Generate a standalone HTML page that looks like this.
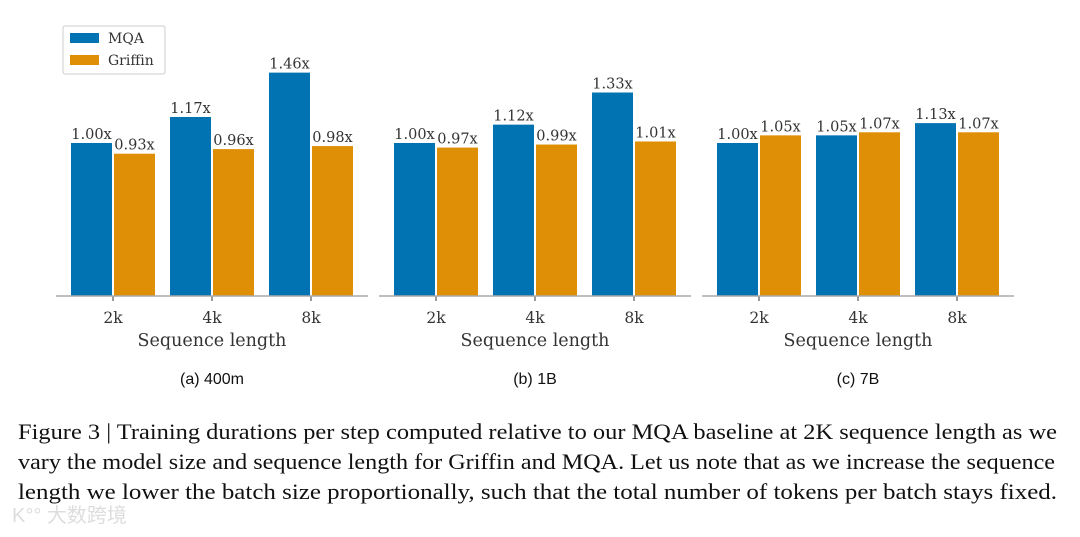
<!DOCTYPE html>
<html><head><meta charset="utf-8"><style>
body{margin:0;background:#fff;width:1080px;height:532px;overflow:hidden}
</style></head><body>
<svg id="fig" width="1080" height="532" xmlns="http://www.w3.org/2000/svg" font-family="'DejaVu Serif', 'Liberation Serif', serif">
<g>
<rect x="63" y="26" width="102" height="48" fill="#fff" stroke="#ccc" rx="2"/>
<rect x="70" y="33" width="29" height="10" fill="#0173b2"/>
<text x="108" y="43" font-size="14" fill="#333">MQA</text>
<rect x="70" y="55" width="29" height="10" fill="#de8f05"/>
<text x="108" y="65" font-size="14" fill="#333">Griffin</text>
</g>
<g id="charts"></g>
<g font-family="'Liberation Serif', serif" font-size="22" fill="#111">
<text x="18" y="439" textLength="1039" lengthAdjust="spacingAndGlyphs">Figure 3 | Training durations per step computed relative to our MQA baseline at 2K sequence length as we</text>
<text x="18" y="469" textLength="1037" lengthAdjust="spacingAndGlyphs">vary the model size and sequence length for Griffin and MQA. Let us note that as we increase the sequence</text>
<text x="18" y="499" textLength="1039" lengthAdjust="spacingAndGlyphs">length we lower the batch size proportionally, such that the total number of tokens per batch stays fixed.</text>
</g>
<text x="12" y="522" font-size="20" fill="#ddd" font-family="'Liberation Sans','Noto Sans CJK SC',sans-serif">K°° 大数跨境</text>
</svg>
<script>
const categories = ["2k","4k","8k"];
const panelTitles = ["(a)  400m","(b)  1B","(c)  7B"];
const mqaValues = [[1.00,1.17,1.46],[1.00,1.12,1.33],[1.00,1.05,1.13]];
const griffinValues = [[0.93,0.96,0.98],[0.97,0.99,1.01],[1.05,1.07,1.07]];
const ns="http://www.w3.org/2000/svg";
const root=document.getElementById('charts');
const base=296, unit=153;
const panelLeft=[56,379,702], panelW=312;
function yOf(v){return base-v*unit;}
function el(tag,attrs,parent){const e=document.createElementNS(ns,tag);for(const k in attrs)e.setAttribute(k,attrs[k]);parent.appendChild(e);return e;}
panelTitles.forEach((title,p)=>{
  const g=el('g',{},root);
  
  
  const L=panelLeft[p];
  const xc=i=>L+57+i*99;
  categories.forEach((c,i)=>{
    const cx=xc(i);
    [[mqaValues[p][i],'#0173b2',-42,'mqa'],[griffinValues[p][i],'#de8f05',1,'griffin']].forEach(([v,col,off,nm])=>{
      const r=el('rect',{x:cx+off,y:yOf(v),width:41,height:v*unit,fill:col},g);
      
      
      const t=el('text',{x:cx+off+20.5,y:yOf(v)-4,'font-size':14.5,fill:'#333','text-anchor':'middle'},g);
      
      
      t.textContent=v.toFixed(2)+'x';
    });
    el('line',{x1:cx,x2:cx,y1:base,y2:base+5,stroke:'#555','stroke-width':1.2},g);
    const tl=el('text',{x:cx,y:323,'font-size':15.5,fill:'#333','text-anchor':'middle'},g);
    
    
    tl.textContent=c;
  });
  const ax=el('line',{x1:L,x2:L+panelW,y1:base,y2:base,stroke:'#aaa','stroke-width':1.5},g);
  
  
  const xl=el('text',{x:L+156,y:346,'font-size':17.5,fill:'#333','text-anchor':'middle'},g);
  
  
  xl.textContent='Sequence length';
  const pt=el('text',{x:L+156,y:384,'font-size':16,fill:'#111','text-anchor':'middle','font-family':"'Liberation Sans', sans-serif"},g);
  
  
  pt.textContent=title;
});
</script>
</body></html>
